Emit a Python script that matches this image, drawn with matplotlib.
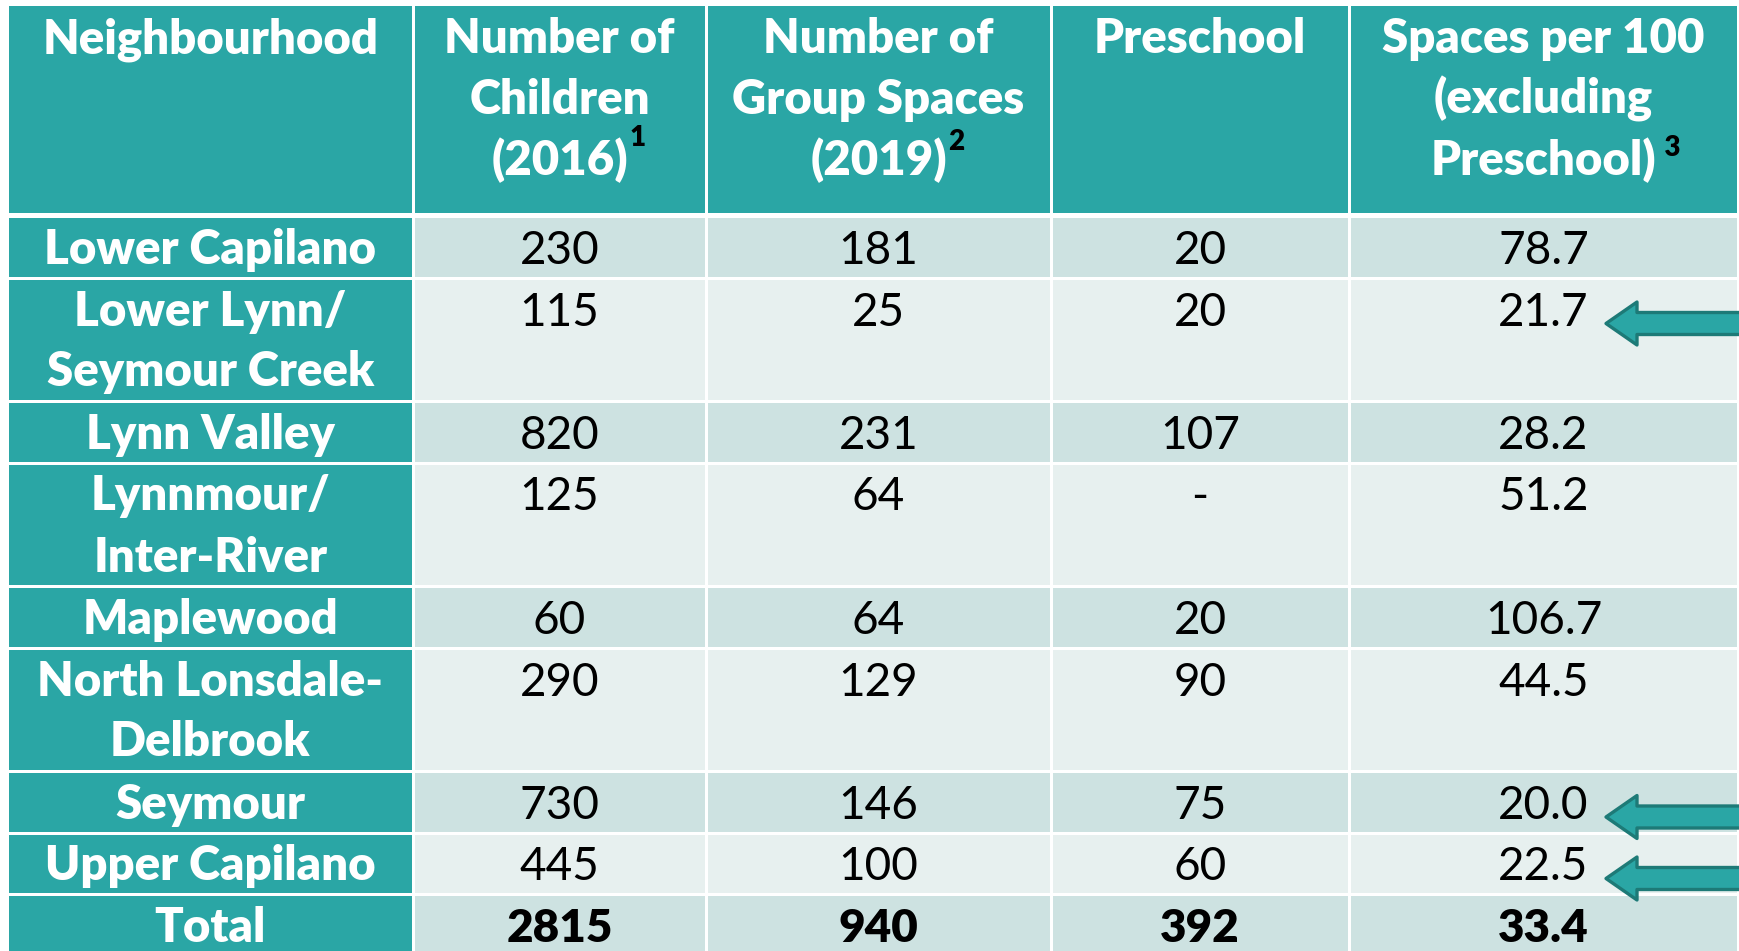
import matplotlib
matplotlib.use("Agg")
import matplotlib.pyplot as plt
from matplotlib.patches import Rectangle, Polygon

# ---- data ----
headers = [["Neighbourhood"],
           ["Number of", "Children", "(2016)"],
           ["Number of", "Group Spaces", "(2019)"],
           ["Preschool"],
           ["Spaces per 100", "(excluding", "Preschool)"]]
header_sup = ["", "1", "2", "", " 3"]
neighbourhoods = ["Lower Capilano", "Lower Lynn/\nSeymour Creek", "Lynn Valley",
                  "Lynnmour/\nInter-River", "Maplewood", "North Lonsdale-\nDelbrook",
                  "Seymour", "Upper Capilano"]
children = ["230", "115", "820", "125", "60", "290", "730", "445"]
group_spaces = ["181", "25", "231", "64", "64", "129", "146", "100"]
preschool = ["20", "20", "107", "-", "20", "90", "75", "60"]
spaces_per_100 = ["78.7", "21.7", "28.2", "51.2", "106.7", "44.5", "20.0", "22.5"]
total_row = ["Total", "2815", "940", "392", "33.4"]
highlighted = ["Lower Lynn/\nSeymour Creek", "Seymour", "Upper Capilano"]

# ---- style ----
TEAL = "#2aa6a5"
ROW_DARK = "#cde2e1"
ROW_LIGHT = "#e7f0ef"
ARROW_EDGE = "#1d7a77"
FONT = "Lato"
BOLD = "heavy"

W, H = 1739, 951
fig = plt.figure(figsize=(W / 100, H / 100), dpi=100)
ax = fig.add_axes([0, 0, 1, 1])
ax.set_xlim(0, W)
ax.set_ylim(H, 0)
ax.axis("off")

col_edges = [9, 413, 706, 1051, 1349, 1738]
gap = 3
line_h = 61
hdr_size = 34
body_size = 33
sup_offsets = {"1": 9, "2": 6, " 3": 2}


def cell(x0, x1, y0, y1, color):
    ax.add_patch(Rectangle((x0, y0), x1 - x0, y1 - y0, facecolor=color,
                           edgecolor="none", zorder=1))


def col_x(i):
    a = col_edges[i] + (gap / 2 if i > 0 else 0)
    b = col_edges[i + 1] - gap / 2
    return a, b


# header
hdr_top, hdr_bot = 6, 213
for i, lines in enumerate(headers):
    a, b = col_x(i)
    cell(a, b, hdr_top, hdr_bot, TEAL)
    cx = (a + b) / 2
    t = None
    for k, ln in enumerate(lines):
        t = ax.text(cx, hdr_top + 47 + line_h * k, ln, ha="center", va="baseline",
                    fontsize=hdr_size, fontweight=BOLD, color="white",
                    family=FONT, zorder=3)
    if header_sup[i]:
        ax.annotate(header_sup[i], xy=(1.0, 1.0), xycoords=t,
                    xytext=(1, sup_offsets.get(header_sup[i], 9)),
                    textcoords="offset points",
                    ha="left", va="top", fontsize=20, fontweight=BOLD,
                    color="black", family=FONT, zorder=3)

# body rows
rows = [[n, c, g, p, s] for n, c, g, p, s in
        zip(neighbourhoods, children, group_spaces, preschool, spaces_per_100)]
rows.append(total_row)

y = 218
for r, row in enumerate(rows):
    nlines = row[0].count("\n") + 1
    pitch = 62 * nlines - 0.5
    y0 = y
    y1 = min(y + pitch - gap, H + 5)
    bg = ROW_DARK if r % 2 == 0 else ROW_LIGHT
    is_total = r == len(rows) - 1
    for i, val in enumerate(row):
        a, b = col_x(i)
        cell(a, b, y0, y1, TEAL if i == 0 else bg)
        cx = (a + b) / 2
        if i == 0:
            for k, ln in enumerate(val.split("\n")):
                ax.text(cx, y0 + 46 + line_h * k, ln, ha="center", va="baseline",
                        fontsize=hdr_size, fontweight=BOLD, color="white",
                        family=FONT, zorder=3)
        else:
            ax.text(cx, y0 + 46, val, ha="center", va="baseline",
                    fontsize=body_size,
                    fontweight=BOLD if is_total else "normal",
                    color="black", family=FONT, zorder=3)
    if row[0] in highlighted:
        yc = y0 + 44
        tip = 1606
        hb = tip + 31
        hh, sh = 21.5, 11
        pts = [(tip, yc), (hb, yc - hh), (hb, yc - sh), (W + 20, yc - sh),
               (W + 20, yc + sh), (hb, yc + sh), (hb, yc + hh)]
        ax.add_patch(Polygon(pts, closed=True, facecolor=TEAL,
                             edgecolor=ARROW_EDGE, linewidth=2.4,
                             joinstyle="round", zorder=4))
    y += pitch

fig.savefig("out.png", dpi=100, facecolor="white")
